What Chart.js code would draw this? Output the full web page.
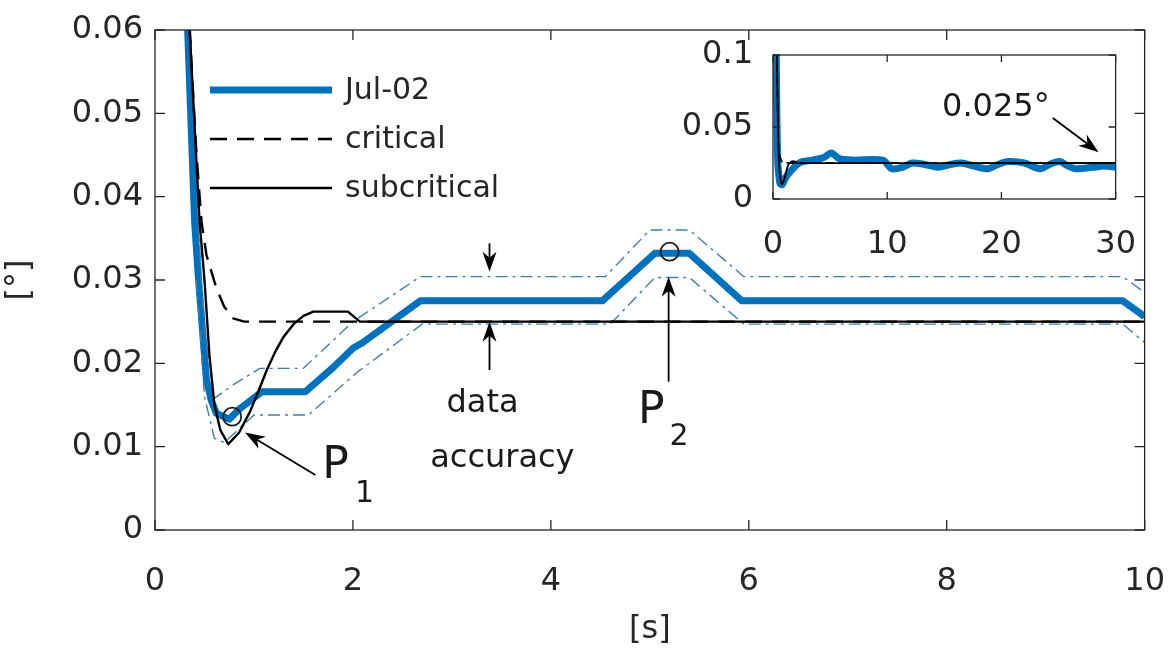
<!DOCTYPE html>
<html>
<head>
<meta charset="utf-8">
<script src="https://cdn.jsdelivr.net/npm/chart.js@4.4.1/dist/chart.umd.min.js"></script>
<style>
  html, body { margin: 0; padding: 0; background: #fff; }
  #wrap { position: relative; width: 1169px; height: 649px; overflow: hidden; }
  #main { position: absolute; left: 0; top: 0; }
  #inset { position: absolute; left: 660px; top: 30px; }
</style>
</head>
<body>
<div id="wrap">
  <canvas id="main" width="1169" height="649"></canvas>
  <canvas id="inset" width="480" height="240"></canvas>
</div>
<script>
// ---- main plot, 0..10 s ----
const julTime  = [0.28, 0.33, 0.4, 0.44, 0.48, 0.52, 0.57, 0.62, 0.75, 0.85, 1.08, 1.52, 1.8, 2.0, 2.1, 2.68, 4.52, 5.05, 5.4, 5.93, 9.78, 10];
const julValue = [0.07, 0.06, 0.037, 0.03, 0.024, 0.018, 0.0155, 0.014, 0.0133, 0.0145, 0.0166, 0.0166, 0.0195, 0.0218, 0.0225, 0.0275, 0.0275, 0.0332, 0.0332, 0.0275, 0.0275, 0.0256];

const upperTime  = [0.42, 0.5, 0.6, 0.8, 1.06, 1.5, 2.0, 2.68, 4.55, 5.0, 5.4, 5.95, 9.78, 10];
const upperValue = [0.04, 0.024, 0.0158, 0.0175, 0.0194, 0.0194, 0.025, 0.0304, 0.0304, 0.036, 0.036, 0.0304, 0.0304, 0.0285];
const lowerTime  = [0.42, 0.5, 0.6, 0.7, 1.0, 1.55, 2.05, 2.7, 4.6, 5.05, 5.4, 5.95, 9.78, 10];
const lowerValue = [0.03, 0.016, 0.011, 0.0105, 0.0138, 0.0138, 0.019, 0.0247, 0.0247, 0.0303, 0.0303, 0.0247, 0.0247, 0.0225];

const critTime  = [0.3, 0.35, 0.42, 0.47, 0.52, 0.57, 0.62, 0.7, 0.79, 0.9, 10];
const critValue = [0.07, 0.06, 0.045, 0.037, 0.033, 0.031, 0.029, 0.0268, 0.0254, 0.025, 0.025];

const subTime  = [0.3, 0.35, 0.45, 0.5, 0.55, 0.6, 0.66, 0.74, 0.85, 0.96, 1.05, 1.13, 1.22, 1.3, 1.4, 1.5, 1.6, 1.95, 2.07, 10];
const subValue = [0.07, 0.06, 0.037, 0.03, 0.021, 0.015, 0.012, 0.0103, 0.0117, 0.0142, 0.0168, 0.0192, 0.0215, 0.0232, 0.0247, 0.0257, 0.0262, 0.0262, 0.025, 0.025];

const markTime  = [0.78, 5.2];
const markValue = [0.0136, 0.0334];

// ---- inset, 0..30 s ----
const insetJulTime  = [0.25, 0.4, 0.6, 0.8, 1.2, 2.3, 3.5, 4.5, 5.1, 5.8, 7, 9.6, 10.4, 11.3, 12.2, 13.3, 14.5, 15.5, 16.5, 17.5, 18.8, 19.7, 20.6, 22, 23.4, 24.2, 25.1, 25.8, 26.5, 28, 29, 30];
const insetJulValue = [0.13, 0.03, 0.011, 0.01, 0.016, 0.025, 0.027, 0.029, 0.032, 0.028, 0.027, 0.027, 0.021, 0.022, 0.025, 0.024, 0.022, 0.024, 0.025, 0.023, 0.021, 0.024, 0.026, 0.025, 0.021, 0.024, 0.026, 0.023, 0.021, 0.022, 0.023, 0.022];
const insetCritTime  = [0.3, 0.5, 0.8, 0.9, 30];
const insetCritValue = [0.13, 0.033, 0.0255, 0.025, 0.025];
const insetSubTime  = [0.3, 0.5, 0.74, 1.0, 1.3, 1.6, 1.95, 2.07, 30];
const insetSubValue = [0.13, 0.03, 0.0103, 0.014, 0.023, 0.026, 0.026, 0.025, 0.025];

const pts = (xs, ys) => xs.map((x, i) => ({x: x, y: ys[i]}));

Chart.defaults.font.family = '"DejaVu Sans", sans-serif';
Chart.defaults.color = '#262626';
Chart.defaults.animation = false;

const BLUE = '#0072BD';
const BAND = '#3f7fb0';

function drawArrow(ctx, x0, y0, x1, y1) {
    const ang = Math.atan2(y1 - y0, x1 - x0), len = 20, half = 7;
    ctx.save();
    ctx.strokeStyle = '#000';
    ctx.fillStyle = '#000';
    ctx.lineWidth = 1.8;
    ctx.beginPath();
    ctx.moveTo(x0, y0);
    ctx.lineTo(x1 - Math.cos(ang) * len * 0.7, y1 - Math.sin(ang) * len * 0.7);
    ctx.stroke();
    ctx.translate(x1, y1);
    ctx.rotate(ang);
    ctx.beginPath();
    ctx.moveTo(0, 0);
    ctx.lineTo(-len, -half);
    ctx.lineTo(-len * 0.7, 0);
    ctx.lineTo(-len, half);
    ctx.closePath();
    ctx.fill();
    ctx.restore();
}

// box round the axes with inward tick marks (MATLAB style)
const frame = {
    id: 'frame',
    beforeDatasetsDraw(chart, args, opts) {
        if (!opts.fill) return;
        const a = chart.chartArea, ctx = chart.ctx;
        ctx.save();
        ctx.fillStyle = '#fff';
        ctx.fillRect(a.left, a.top, a.width, a.height);
        ctx.restore();
    },
    afterDatasetsDraw(chart, args, opts) {
        const {ctx, chartArea: a, scales} = chart;
        const L = opts.tick || 9;
        ctx.save();
        ctx.strokeStyle = '#262626';
        ctx.lineWidth = 1.3;
        ctx.strokeRect(a.left, a.top, a.width, a.height);
        ctx.beginPath();
        scales.x.ticks.forEach(t => {
            const px = scales.x.getPixelForValue(t.value);
            ctx.moveTo(px, a.bottom); ctx.lineTo(px, a.bottom - L);
            ctx.moveTo(px, a.top); ctx.lineTo(px, a.top + L);
        });
        scales.y.ticks.forEach(t => {
            const py = scales.y.getPixelForValue(t.value);
            ctx.moveTo(a.left, py); ctx.lineTo(a.left + L, py);
            ctx.moveTo(a.right, py); ctx.lineTo(a.right - L, py);
        });
        ctx.stroke();
        ctx.restore();
    }
};

const lineLegend = {
    id: 'lineLegend',
    afterDraw(chart, args, opts) {
        if (!opts.labels) return;
        const {ctx, chartArea: a} = chart;
        let y = a.top + opts.dy;
        opts.labels.forEach(name => {
            const d = chart.data.datasets.find(s => s.label === name);
            ctx.save();
            ctx.strokeStyle = d.borderColor;
            ctx.lineWidth = d.borderWidth;
            ctx.setLineDash(d.borderDash || []);
            ctx.beginPath();
            ctx.moveTo(a.left + opts.dx, y);
            ctx.lineTo(a.left + opts.dx + opts.len, y);
            ctx.stroke();
            ctx.setLineDash([]);
            ctx.fillStyle = '#262626';
            ctx.font = opts.font;
            ctx.textBaseline = 'middle';
            ctx.fillText(d.label, a.left + opts.dx + opts.len + 13, y + 1);
            ctx.restore();
            y += opts.gap;
        });
    }
};

const notes = {
    id: 'notes',
    afterDraw(chart, args, opts) {
        const {ctx, scales: {x, y}} = chart;
        (opts.arrows || []).forEach(a => drawArrow(ctx,
            x.getPixelForValue(a[0]), y.getPixelForValue(a[1]),
            x.getPixelForValue(a[2]), y.getPixelForValue(a[3])));
        (opts.texts || []).forEach(t => {
            ctx.save();
            ctx.fillStyle = '#1a1a1a';
            ctx.font = t.font;
            ctx.textAlign = t.align || 'left';
            ctx.textBaseline = 'alphabetic';
            ctx.fillText(t.text, x.getPixelForValue(t.x), y.getPixelForValue(t.y));
            ctx.restore();
        });
    }
};

const tickFmt = v => String(+v.toFixed(2));

// ---- main chart ----
new Chart(document.getElementById('main'), {
    type: 'line',
    data: {
        datasets: [
            {label: 'Jul-02', data: pts(julTime, julValue), borderColor: BLUE, borderWidth: 7, order: 4},
            {label: 'critical', data: pts(critTime, critValue), borderColor: '#000', borderWidth: 2.4, borderDash: [17, 10], order: 2},
            {label: 'subcritical', data: pts(subTime, subValue), borderColor: '#000', borderWidth: 2.4, order: 1},
            {label: 'upper', data: pts(upperTime, upperValue), borderColor: BAND, borderWidth: 1.4, borderDash: [12, 5, 3, 5], order: 3},
            {label: 'lower', data: pts(lowerTime, lowerValue), borderColor: BAND, borderWidth: 1.4, borderDash: [12, 5, 3, 5], order: 3},
            {label: 'points', data: pts(markTime, markValue), showLine: false, pointRadius: 9, pointBorderWidth: 1.8,
             pointBorderColor: '#1a1a1a', pointBackgroundColor: 'rgba(0,0,0,0)', order: 0}
        ]
    },
    options: {
        responsive: false,
        clip: 0,
        layout: {padding: {top: 30, right: 24, left: 0, bottom: 0}},
        elements: {point: {radius: 0}, line: {tension: 0, borderCapStyle: 'butt', borderJoinStyle: 'round'}},
        plugins: {
            legend: {display: false},
            tooltip: {enabled: false},
            frame: {tick: 10},
            lineLegend: {labels: ['Jul-02', 'critical', 'subcritical'], dx: 55, dy: 60, len: 122, gap: 49, font: '30px "DejaVu Sans"'},
            notes: {
                arrows: [
                    [1.62, 0.0066, 0.91, 0.0117],
                    [3.38, 0.0344, 3.38, 0.0310],
                    [3.38, 0.0192, 3.38, 0.0250],
                    [5.19, 0.0178, 5.19, 0.0304]
                ],
                texts: [
                    {text: 'data', x: 3.31, y: 0.0142, font: '32px "DejaVu Sans"', align: 'center'},
                    {text: 'accuracy', x: 3.51, y: 0.0076, font: '32px "DejaVu Sans"', align: 'center'},
                    {text: 'P', x: 1.69, y: 0.0062, font: '44px "DejaVu Sans"'},
                    {text: '1', x: 2.02, y: 0.0034, font: '30px "DejaVu Sans"'},
                    {text: 'P', x: 4.88, y: 0.0129, font: '44px "DejaVu Sans"'},
                    {text: '2', x: 5.2, y: 0.0102, font: '30px "DejaVu Sans"'}
                ]
            }
        },
        scales: {
            x: {
                type: 'linear', min: 0, max: 10,
                grid: {display: false, drawTicks: true, tickLength: 28},
                border: {display: false},
                ticks: {stepSize: 2, autoSkip: false, maxRotation: 0, padding: 4, font: {size: 32}, color: '#262626'},
                title: {display: true, text: '[s]', font: {size: 32}, color: '#262626', padding: 0},
                afterFit: s => { s.height = 119; }
            },
            y: {
                min: 0, max: 0.06,
                grid: {display: false, drawTicks: true, tickLength: 8},
                border: {display: false},
                ticks: {stepSize: 0.01, autoSkip: false, padding: 4, font: {size: 32}, color: '#262626', callback: tickFmt},
                title: {display: true, text: '[°]', font: {size: 32}, color: '#262626', padding: 0},
                afterFit: s => { s.width = 155; }
            }
        }
    },
    plugins: [frame, lineLegend, notes]
});

// ---- inset chart ----
new Chart(document.getElementById('inset'), {
    type: 'line',
    data: {
        datasets: [
            {label: 'Jul-02', data: pts(insetJulTime, insetJulValue), borderColor: BLUE, borderWidth: 7, order: 3},
            {label: 'critical', data: pts(insetCritTime, insetCritValue), borderColor: '#000', borderWidth: 1.8, borderDash: [8, 5], order: 2},
            {label: 'subcritical', data: pts(insetSubTime, insetSubValue), borderColor: '#000', borderWidth: 1.8, order: 1}
        ]
    },
    options: {
        responsive: false,
        clip: 0,
        layout: {padding: {top: 25, right: 22, left: 0, bottom: 0}},
        elements: {point: {radius: 0}, line: {tension: 0.3, borderJoinStyle: 'round'}},
        plugins: {
            legend: {display: false},
            tooltip: {enabled: false},
            frame: {tick: 7, fill: true},
            notes: {
                arrows: [[24.5, 0.0563, 28.5, 0.0325]],
                texts: [{text: '0.025°', x: 14.8, y: 0.0576, font: '32px "DejaVu Sans"'}]
            }
        },
        scales: {
            x: {
                type: 'linear', min: 0, max: 30,
                grid: {display: false, drawTicks: true, tickLength: 22},
                border: {display: false},
                ticks: {stepSize: 10, autoSkip: false, maxRotation: 0, padding: 4, font: {size: 32}, color: '#262626'},
                afterFit: s => { s.height = 71; }
            },
            y: {
                min: 0, max: 0.1,
                grid: {display: false, drawTicks: true, tickLength: 16},
                border: {display: false},
                ticks: {stepSize: 0.05, autoSkip: false, padding: 4, font: {size: 32}, color: '#262626', callback: tickFmt},
                afterFit: s => { s.width = 113; }
            }
        }
    },
    plugins: [frame, notes]
});
</script>
</body>
</html>
